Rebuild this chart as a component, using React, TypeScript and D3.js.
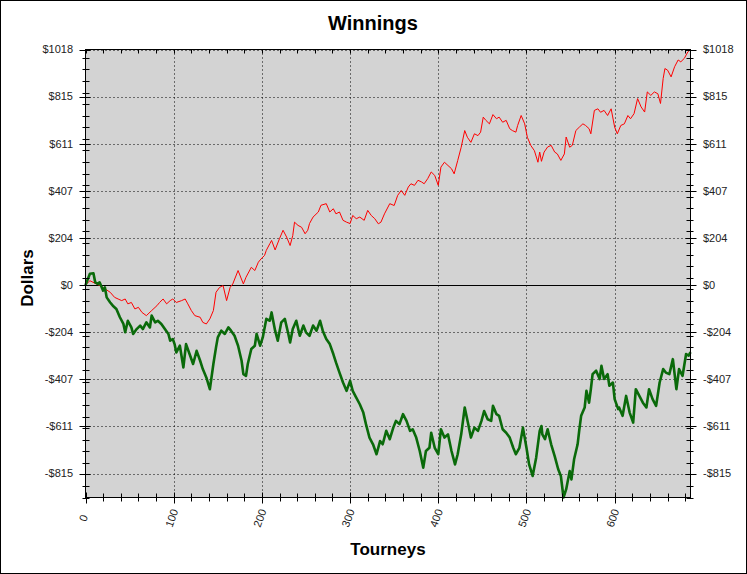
import React from 'react';
import * as d3 from 'd3';

// tourney number / cumulative dollars
const redTourneys = [0, 5, 16, 22, 28, 33, 37, 41, 45, 48, 52, 56, 60, 64, 69, 75, 81, 84, 88, 92, 96, 99, 103, 109, 113, 116, 120, 124, 130, 133, 137, 141, 145, 148, 152, 156, 160, 164, 167, 173, 179, 182, 188, 192, 196, 199, 203, 205, 209, 211, 215, 220, 224, 228, 232, 235, 237, 241, 245, 249, 252, 254, 258, 264, 267, 273, 277, 281, 284, 288, 292, 296, 300, 303, 307, 311, 316, 320, 324, 328, 332, 335, 339, 345, 350, 354, 358, 362, 366, 369, 373, 377, 381, 384, 388, 392, 396, 400, 403, 407, 411, 415, 418, 422, 426, 430, 433, 437, 441, 445, 448, 451, 454, 458, 462, 466, 469, 473, 477, 481, 484, 488, 490, 494, 498, 501, 505, 509, 513, 515, 517, 520, 524, 528, 532, 535, 539, 543, 545, 549, 552, 556, 560, 564, 567, 571, 573, 577, 581, 584, 588, 592, 596, 600, 603, 607, 611, 615, 618, 622, 626, 630, 634, 637, 641, 645, 649, 652, 655, 657, 660, 664, 668, 672, 675, 679, 683, 686];
const redDollars = [0, 19, -2, -16, -31, -53, -60, -67, -60, -81, -75, -103, -96, -118, -132, -110, -89, -75, -60, -81, -67, -60, -75, -67, -60, -81, -110, -132, -139, -161, -168, -146, -110, -31, -10, -2, -67, -10, 5, 63, 5, 34, 77, 63, 99, 113, 128, 150, 179, 193, 152, 201, 237, 208, 171, 214, 272, 258, 250, 222, 237, 266, 294, 316, 345, 352, 316, 330, 308, 316, 280, 272, 266, 301, 287, 294, 280, 323, 301, 287, 265, 272, 308, 352, 344, 388, 409, 388, 424, 438, 431, 453, 446, 438, 460, 489, 474, 431, 510, 531, 517, 503, 481, 538, 596, 668, 639, 617, 654, 646, 661, 726, 712, 697, 737, 719, 726, 704, 712, 676, 668, 661, 690, 733, 697, 639, 603, 581, 531, 575, 535, 575, 597, 604, 575, 567, 539, 567, 640, 596, 604, 668, 683, 697, 690, 676, 654, 755, 762, 747, 755, 733, 762, 683, 654, 690, 697, 733, 719, 741, 806, 770, 748, 835, 820, 835, 827, 785, 893, 936, 929, 900, 944, 973, 965, 980, 1008, 1018.3];

const greenTourneys = [0, 5, 9, 11, 14, 16, 20, 22, 24, 28, 31, 35, 39, 43, 45, 48, 52, 54, 58, 62, 65, 69, 73, 75, 79, 82, 86, 90, 94, 96, 99, 101, 103, 107, 111, 114, 118, 122, 126, 130, 133, 137, 141, 145, 148, 150, 154, 158, 162, 165, 169, 173, 177, 179, 182, 184, 188, 192, 194, 198, 201, 205, 209, 211, 215, 218, 222, 226, 230, 232, 235, 239, 243, 247, 250, 254, 258, 262, 266, 269, 273, 277, 281, 284, 288, 292, 296, 300, 303, 307, 311, 315, 318, 322, 326, 330, 334, 337, 341, 345, 349, 352, 356, 360, 364, 368, 371, 375, 379, 383, 386, 390, 392, 396, 400, 403, 407, 411, 415, 419, 422, 426, 430, 434, 437, 441, 445, 449, 452, 456, 460, 462, 466, 469, 473, 477, 481, 485, 488, 492, 496, 500, 503, 507, 511, 515, 517, 518, 521, 524, 528, 532, 536, 539, 542, 545, 549, 551, 554, 558, 560, 562, 566, 568, 571, 573, 575, 579, 583, 585, 588, 592, 594, 598, 600, 604, 605, 609, 613, 617, 621, 624, 628, 632, 636, 639, 643, 647, 651, 655, 658, 662, 666, 670, 673, 677, 681, 684, 686];
const greenDollars = [0, 49, 51, 12, 5, 12, -24, -10, -53, -75, -89, -103, -139, -168, -204, -154, -183, -211, -190, -175, -190, -161, -183, -132, -161, -154, -168, -190, -211, -240, -233, -255, -291, -262, -356, -255, -298, -341, -284, -327, -363, -399, -450, -341, -269, -226, -197, -211, -183, -197, -219, -262, -327, -385, -392, -341, -276, -262, -211, -262, -226, -146, -154, -118, -197, -240, -161, -146, -211, -248, -190, -154, -219, -175, -204, -219, -175, -197, -154, -197, -233, -255, -298, -334, -378, -421, -457, -414, -457, -486, -515, -551, -601, -659, -688, -731, -674, -688, -630, -666, -616, -587, -601, -558, -587, -630, -623, -659, -717, -789, -717, -703, -638, -703, -731, -623, -659, -645, -717, -775, -731, -645, -529, -601, -659, -616, -630, -587, -544, -580, -587, -522, -558, -565, -623, -638, -659, -703, -731, -703, -616, -703, -775, -825, -746, -630, -609, -645, -666, -623, -688, -739, -796, -825, -918, -883, -804, -840, -753, -688, -623, -565, -529, -457, -508, -450, -385, -370, -406, -349, -406, -385, -435, -421, -493, -536, -529, -565, -479, -551, -594, -450, -479, -508, -529, -450, -493, -522, -421, -363, -378, -385, -320, -450, -363, -392, -298, -305, -290];

const xMajorTicks = [0, 100, 200, 300, 400, 500, 600];
const yMajorTicks = [1018.3, 814.6, 611.0, 407.3, 203.7, 0, -203.7, -407.3, -611.0, -814.6];

const W = 747;
const H = 574;
const FONT = '"Liberation Sans", Arial, sans-serif';

const fmtDollar = (v: number) => (v < 0 ? `-$${Math.round(-v)}` : `$${Math.round(v)}`);

const App = () => {
  const red = redTourneys.map((t, i) => [t, redDollars[i]] as [number, number]);
  const green = greenTourneys.map((t, i) => [t, greenDollars[i]] as [number, number]);

  const x = d3.scaleLinear().domain([0, 686]).range([85.5, 690.5]);
  const yMin = d3.min(greenDollars) as number;
  const yMax = d3.max(redDollars) as number;
  const y = d3.scaleLinear().domain([yMin, yMax]).range([497.5, 49.5]);

  const line = d3
    .line<[number, number]>()
    .x((d) => x(d[0]))
    .y((d) => y(d[1]));

  const xMinor = d3.range(0, 687, 20);
  const yMinor = d3.range(yMin, yMax, 50);
  const px = (v: number) => Math.round(v) + 0.5;

  const left = x(0);
  const right = x(686);
  const top = y(yMax);
  const bottom = y(yMin);

  return (
    <svg width={W} height={H} style={{ position: 'absolute', left: 0, top: 0 }} fontFamily={FONT}>
      <rect x={0.5} y={0.5} width={W - 1} height={H - 1} fill="#fff" stroke="#000" />
      <text x={373} y={30} textAnchor="middle" fontSize={20} fontWeight="bold">
        Winnings
      </text>

      <rect x={left} y={top} width={right - left} height={bottom - top} fill="#d3d3d3" />

      {/* dotted grid */}
      {yMajorTicks
        .filter((v) => v !== 0)
        .map((v) => (
          <line key={'gy' + v} x1={left} x2={right} y1={px(y(v))} y2={px(y(v))} stroke="#000" strokeDasharray="1,3" />
        ))}
      {xMajorTicks
        .filter((v) => v !== 0)
        .map((v) => (
          <line key={'gx' + v} y1={top} y2={bottom} x1={px(x(v))} x2={px(x(v))} stroke="#000" strokeDasharray="1,3" />
        ))}
      <line x1={left} x2={right} y1={px(y(0))} y2={px(y(0))} stroke="#000" />

      <path d={line(red) || ''} fill="none" stroke="#ff0000" strokeWidth={1} strokeLinejoin="round" />
      <path d={line(green) || ''} fill="none" stroke="#0a6a0a" strokeWidth={2.6} strokeLinejoin="round" />

      {/* frame */}
      <rect x={left} y={top} width={right - left} height={bottom - top} fill="none" stroke="#000" />

      {/* y ticks, both sides */}
      {yMinor.map((v) => (
        <g key={'my' + v}>
          <line x1={left - 3} x2={left + 4} y1={px(y(v))} y2={px(y(v))} stroke="#000" />
          <line x1={right - 4} x2={right + 3} y1={px(y(v))} y2={px(y(v))} stroke="#000" />
        </g>
      ))}
      {yMajorTicks.map((v) => (
        <g key={'ty' + v}>
          <line x1={left - 6} x2={left + 5} y1={px(y(v))} y2={px(y(v))} stroke="#000" />
          <line x1={right - 5} x2={right + 6} y1={px(y(v))} y2={px(y(v))} stroke="#000" />
          <text x={73} y={y(v)} dy="0.35em" textAnchor="end" fontSize={11} fill="#222">
            {fmtDollar(v)}
          </text>
          <text x={703} y={y(v)} dy="0.35em" textAnchor="start" fontSize={11} fill="#222">
            {fmtDollar(v)}
          </text>
        </g>
      ))}

      {/* x ticks, bottom and top */}
      {xMinor.map((v) => (
        <g key={'mx' + v}>
          <line y1={bottom - 4} y2={bottom + 4} x1={px(x(v))} x2={px(x(v))} stroke="#000" />
          <line y1={top} y2={top + 4} x1={px(x(v))} x2={px(x(v))} stroke="#000" />
        </g>
      ))}
      {xMajorTicks.map((v) => (
        <g key={'tx' + v}>
          <line y1={bottom - 5} y2={bottom + 6} x1={px(x(v))} x2={px(x(v))} stroke="#000" />
          <text
            transform={`translate(${x(v) - 2},${518}) rotate(-70)`}
            textAnchor="middle"
            dy="0.35em"
            fontSize={11}
            fill="#222"
          >
            {v}
          </text>
        </g>
      ))}

      <text transform="translate(33,278) rotate(-90)" textAnchor="middle" fontSize={17} fontWeight="bold">
        Dollars
      </text>
      <text x={388} y={555} textAnchor="middle" fontSize={17} fontWeight="bold">
        Tourneys
      </text>
    </svg>
  );
};

export default App;
